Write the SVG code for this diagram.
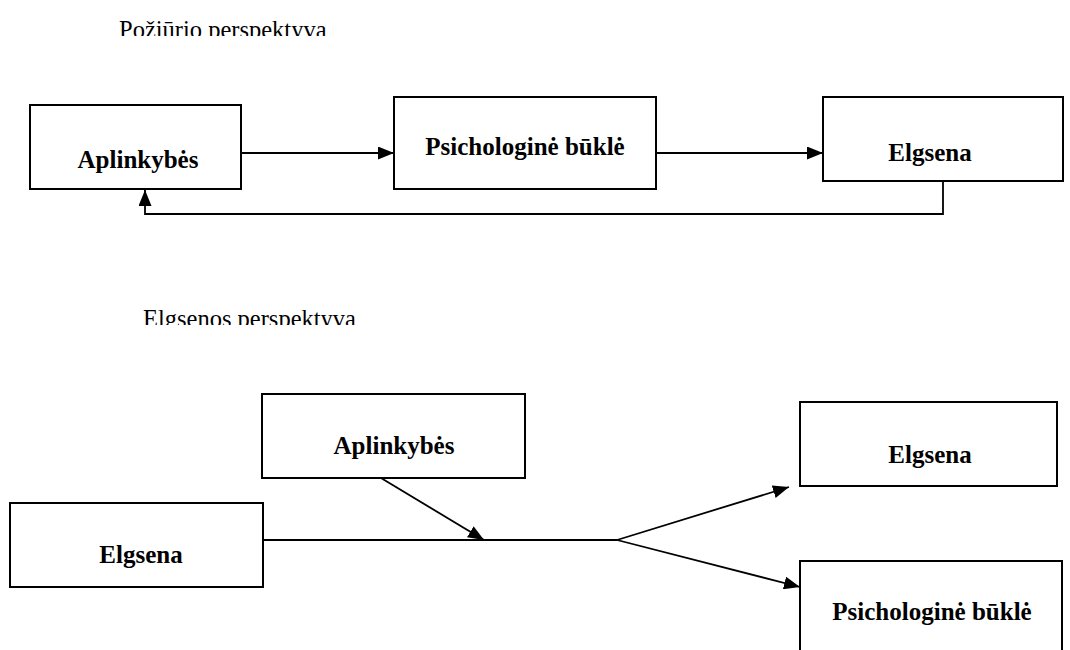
<svg xmlns="http://www.w3.org/2000/svg" width="1070" height="650" viewBox="0 0 1070 650">
  <style>
    .box { fill: #ffffff; stroke: #000000; stroke-width: 2; }
    .lbl { font-family: "Liberation Serif", "Times New Roman", serif; font-size: 25px; font-weight: bold; text-anchor: middle; fill: #000000; }
    .ttl { font-family: "Liberation Serif", "Times New Roman", serif; font-size: 24.5px; fill: #000000; }
    .wire { fill: none; stroke: #000000; stroke-width: 1.8; }
  </style>
  <defs>
    <marker id="head" viewBox="0 0 16 13" refX="16" refY="6.5" markerWidth="16" markerHeight="13" markerUnits="userSpaceOnUse" orient="auto">
      <path d="M0,0 L16,6.5 L0,13 Z" fill="#000000"/>
    </marker>
    <clipPath id="clipTop"><rect x="0" y="0" width="1070" height="36"/></clipPath>
    <clipPath id="clipMid"><rect x="0" y="290" width="1070" height="35"/></clipPath>
  </defs>
  <rect width="1070" height="650" fill="#ffffff"/>

  <!-- section headings (lower part of the line is cut off) -->
  <text class="ttl" x="119" y="38" clip-path="url(#clipTop)">Požiūrio perspektyva</text>
  <text class="ttl" x="143" y="327" clip-path="url(#clipMid)">Elgsenos perspektyva</text>

  <!-- connectors -->
  <g id="connectors">
    <line class="wire" x1="241" y1="153" x2="394" y2="153" marker-end="url(#head)"/>
    <line class="wire" x1="656" y1="153" x2="823" y2="153" marker-end="url(#head)"/>
    <polyline class="wire" points="943,181 943,214 145,214 145,190" marker-end="url(#head)"/>
    <line class="wire" x1="263" y1="540" x2="617" y2="540"/>
    <line class="wire" x1="381" y1="478" x2="484" y2="540" marker-end="url(#head)"/>
    <line class="wire" x1="617" y1="540" x2="789" y2="487" marker-end="url(#head)"/>
    <line class="wire" x1="617" y1="540" x2="800" y2="587" marker-end="url(#head)"/>
  </g>

  <!-- attitude perspective -->
  <g id="top-aplinkybes">
    <rect class="box" x="30" y="105" width="211" height="84"/>
    <text class="lbl" x="138" y="168">Aplinkybės</text>
  </g>
  <g id="top-psichologine">
    <rect class="box" x="394" y="97" width="262" height="92"/>
    <text class="lbl" x="525" y="155">Psichologinė būklė</text>
  </g>
  <g id="top-elgsena">
    <rect class="box" x="823" y="97" width="240" height="84"/>
    <text class="lbl" x="930" y="161">Elgsena</text>
  </g>

  <!-- behaviour perspective -->
  <g id="bottom-aplinkybes">
    <rect class="box" x="262" y="394" width="263" height="84"/>
    <text class="lbl" x="394" y="454">Aplinkybės</text>
  </g>
  <g id="bottom-elgsena-in">
    <rect class="box" x="10" y="503" width="253" height="84"/>
    <text class="lbl" x="141" y="563">Elgsena</text>
  </g>
  <g id="bottom-elgsena-out">
    <rect class="box" x="800" y="402" width="257" height="84"/>
    <text class="lbl" x="930" y="463">Elgsena</text>
  </g>
  <g id="bottom-psichologine">
    <rect class="box" x="800" y="561" width="262" height="100"/>
    <text class="lbl" x="932" y="620">Psichologinė būklė</text>
  </g>
</svg>
